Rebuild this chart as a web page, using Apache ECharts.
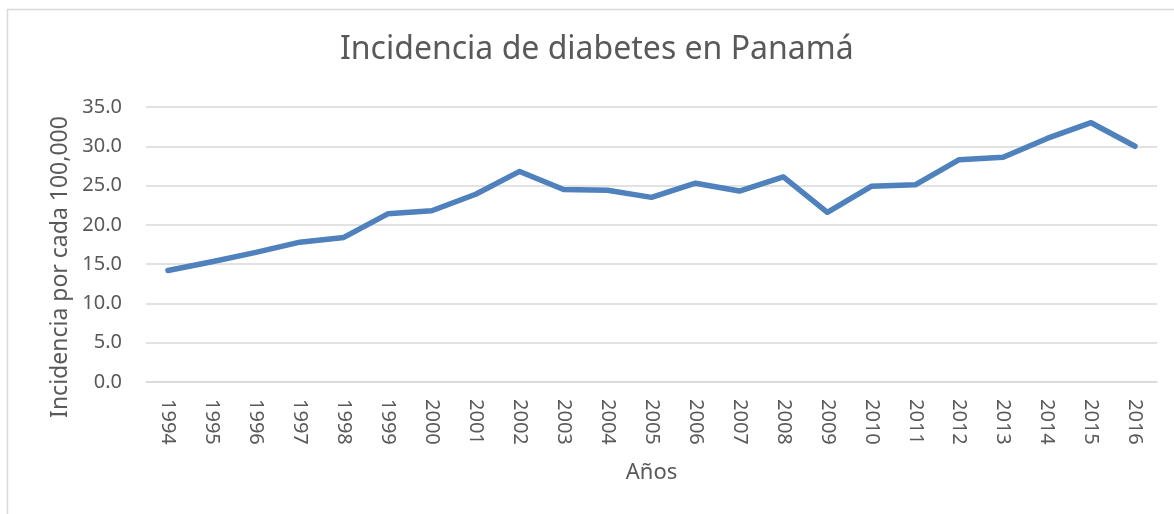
<!DOCTYPE html>
<html>
<head>
<meta charset="utf-8">
<script src="https://cdn.jsdelivr.net/npm/echarts@6/dist/echarts.min.js"></script>
<style>
  html, body { margin: 0; padding: 0; background: #fff; }
  #chart { width: 1174px; height: 514px; }
</style>
</head>
<body>
<div id="chart"></div>
<script>
// data
const years = ["1994", "1995", "1996", "1997", "1998", "1999", "2000", "2001",
  "2002", "2003", "2004", "2005", "2006", "2007", "2008", "2009", "2010",
  "2011", "2012", "2013", "2014", "2015", "2016"];
const incidence = [14.2, 15.3, 16.5, 17.8, 18.4, 21.4, 21.8, 23.9,
  26.8, 24.5, 24.4, 23.5, 25.3, 24.3, 26.1, 21.6, 24.9,
  25.1, 28.3, 28.6, 31.0, 33.0, 30.0];

const titleText = "Incidencia de diabetes en Panamá";
const xName = "Años";
const yName = "Incidencia por cada 100,000";

const textColor = "#595959";
const font = "Noto Sans";

const chart = echarts.init(document.getElementById("chart"), null, { renderer: "canvas" });

const option = {
  backgroundColor: "#fff",
  animation: false,
  textStyle: { fontFamily: font, color: textColor },
  title: {
    text: titleText,
    left: 335,
    top: 29,
    textStyle: { fontFamily: font, fontSize: 32, fontWeight: "normal", color: textColor }
  },
  graphic: [
    {
      type: "rect",
      shape: { x: 7.5, y: 9.5, width: 1180, height: 520 },
      style: { fill: null, stroke: "#d9d9d9", lineWidth: 1.5 },
      silent: true
    },
    {
      type: "text",
      x: 60,
      y: 267,
      rotation: Math.PI / 2,
      style: {
        text: yName,
        fontFamily: font,
        fontSize: 23,
        fill: textColor,
        align: "center",
        verticalAlign: "middle"
      }
    }
  ],
  grid: { left: 146, right: 17, top: 107, bottom: 132 },
  xAxis: {
    type: "category",
    data: years,
    boundaryGap: true,
    name: xName,
    nameLocation: "middle",
    nameGap: 80,
    nameTextStyle: { fontFamily: font, fontSize: 22, color: textColor },
    axisLine: { show: true, lineStyle: { color: "#d9d9d9", width: 1.5 } },
    axisTick: { show: false },
    axisLabel: {
      rotate: -90,
      margin: 17,
      fontFamily: font,
      fontSize: 20,
      color: textColor
    }
  },
  yAxis: {
    type: "value",
    min: 0,
    max: 35,
    interval: 5,
    axisLine: { show: false },
    axisTick: { show: false },
    axisLabel: {
      margin: 24,
      fontFamily: font,
      fontSize: 20,
      color: textColor,
      formatter: v => v.toFixed(1)
    },
    splitLine: { lineStyle: { color: "#d9d9d9", width: 1.5 } }
  },
  series: [
    {
      type: "line",
      data: incidence,
      symbol: "none",
      lineStyle: { color: "#4f81bd", width: 5.5, cap: "round", join: "round" },
      itemStyle: { color: "#4f81bd" }
    }
  ]
};

chart.setOption(option);
</script>
</body>
</html>
